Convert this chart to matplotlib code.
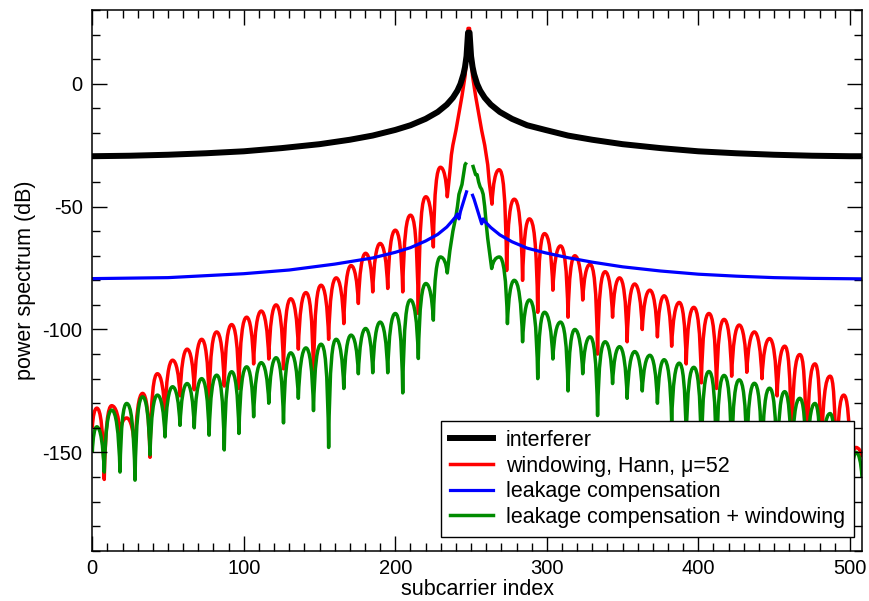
import numpy as np
import matplotlib
matplotlib.use("Agg")
import matplotlib.pyplot as plt
from matplotlib.path import Path
from matplotlib.patches import PathPatch
from matplotlib.lines import Line2D
from matplotlib.ticker import MultipleLocator

plt.rcParams['font.family'] = ['Liberation Sans', 'DejaVu Sans']
plt.rcParams['axes.unicode_minus'] = False

# ---------------------------------------------------------------- data
# interferer (smooth leakage spectrum)
black_x = [0, 25, 50, 75, 100, 125, 150, 170, 185, 200, 210, 220, 228, 234, 238,
           241, 243, 245, 246, 247, 248, 249, 250, 251, 252, 254, 256, 259, 263,
           269, 277, 287, 299, 314, 330, 350, 375, 400, 425, 450, 475, 500, 508]
black_db = [-29.5, -29.3, -28.9, -28.3, -27.5, -26.2, -24.6, -22.8, -21.1, -18.8,
            -16.9, -14.3, -11.5, -8.5, -5.7, -2.8, -0.1, 3.9, 6.8, 11.2, 20.8,
            20.8, 11.2, 6.8, 3.9, -0.1, -2.8, -5.7, -8.5, -11.5, -14.3, -16.9,
            -18.8, -21.1, -22.8, -24.6, -26.2, -27.5, -28.3, -28.9, -29.3, -29.5,
            -29.5]

# leakage compensation (smooth, gap at the interferer bins)
blue_x = [0, 50, 100, 130, 160, 185, 200, 210, 220, 228, 234, 238, 240, 241,
          242, 243, 245, 246, 247, 248, 249, 250, 251, 252, 253, 254, 255, 256,
          257, 258, 259, 263, 269, 277, 287, 299, 314, 330, 350, 375, 400, 425,
          450, 475, 508]
blue_db = [-79.3, -78.9, -77.3, -75.8, -73.4, -70.9, -68.6, -66.7, -64.0, -61.3,
           -58.3, -55.5, -54.0, -53.0, -55.0, -52.0, -48.0, -46.0, -44.0, np.nan,
           np.nan, np.nan, -45.4, -47.0, -49.0, -51.0, -53.0, -55.0, -57.0, -55.0,
           -56.0, -58.5, -61.5, -64.3, -66.9, -68.8, -70.8, -72.6, -74.5, -76.2,
           -77.5, -78.3, -78.9, -79.2, -79.4]

# windowing, Hann: lobe turning points (null, peak, null, ...) left of centre
red_left_x = [0, 3, 7.9, 12.8, 18.3, 22.7, 28.2, 33.2, 38.1, 43, 48, 53, 57.9,
              62.6, 67.3, 72.2, 77.1, 82.1, 87.1, 92, 96.8, 101.9, 106.5, 111.5,
              116.5, 121.3, 126.2, 131, 136, 141, 146, 151, 156, 161, 166, 170.8,
              175.6, 180.4, 185.1, 190, 195, 200, 204.9, 210, 215.2, 220.2,
              225.1, 229.8, 234.3]
red_left_db = [-140, -132, -161, -131, -142, -136, -150, -126, -152, -118, -135,
               -112.5, -127, -108, -124.5, -104, -129, -101, -123, -98, -124, -95,
               -114, -92.5, -112, -90, -116, -87.5, -108, -85, -119, -82, -104,
               -79, -97.6, -74, -89.4, -69, -84.7, -65, -83.3, -59.6, -84.7,
               -53.5, -93.5, -46, -66.4, -34, -46]
# main lobe, per subcarrier
red_core_x = [236, 237, 238, 240, 242, 244, 246, 247, 248, 249, 250, 251, 253,
              255, 257, 259, 260, 261, 262]
red_core_db = [-36, -29, -25, -19, -12, -5, 3, 10, 22.5, 22.5, 10, 3, -5, -12,
               -19, -25, -29, -33, -40]
# lobe turning points (null, peak, null, ...) right of centre
red_right_x = [263.8, 268.5, 273.5, 278.5, 284, 288.5, 294, 298.5, 304, 309, 314,
               318.5, 323.7, 328.5, 333.5, 338.5, 343.4, 348, 353, 358, 363, 368,
               373, 377.4, 382.4, 387.4, 392, 397, 402, 407, 412, 417, 422, 427,
               432, 437, 442, 447, 452, 457, 461.5, 467, 471.5, 477, 481, 487, 491,
               496, 500.5, 504, 508]
red_right_db = [-49, -35, -76, -47, -80, -55, -93, -61, -84, -66, -95, -70, -88,
                -73.5, -110, -76.5, -95, -79, -105, -81.5, -100, -84, -103, -86.3,
                -106.8, -89, -114, -91, -121.7, -93.5, -124, -95.9, -119, -98.2,
                -117.4, -101, -120, -103.7, -127, -106.8, -150, -110.2, -160, -114,
                -158, -119, -165, -126.7, -160, -148, -152]

# leakage compensation + windowing
green_left_x = red_left_x
green_left_db = [-150, -139.6, -158, -132.8, -158, -130.1, -161.3, -127.4, -151,
                 -126.7, -143.7, -123.3, -139, -122, -140, -120, -143, -118.6,
                 -149, -117.2, -142.3, -115.2, -135.5, -113.5, -130, -111.5, -138,
                 -109.5, -128, -107.5, -133, -106, -148, -104, -124, -102.3, -118,
                 -99.6, -117.6, -97, -117.6, -93.5, -125.8, -88, -111.8, -81.3,
                 -96.2, -70.5, -77]
green_core_x = [236, 238, 240, 241, 242, 243, 244, 245, 246, 247, 248, 249, 250,
                251, 252, 253, 254, 255, 256, 257, 258, 259, 260, 261]
green_core_db = [-68, -60, -54, -50, -45, -43, -41, -37, -33, -32, np.nan,
                 np.nan, np.nan, -33, -35, -37, -37, -40, -42, -43, -45, -50, -57,
                 -63]
green_right_x = [263.6, 268.7, 274, 278.5, 284, 288.5, 294, 298.5, 304, 309, 314,
                 318.5, 323.7, 328.5, 333.5, 338.5, 343.4, 348, 353, 358, 363, 368,
                 373, 377.4, 382.4, 387.4, 392, 397, 402, 407, 412, 417, 422, 427,
                 432, 437, 442, 447, 452, 457, 461.5, 467, 471.5, 477, 481, 487,
                 491, 496, 500.5, 504, 508]
green_right_db = [-75.2, -70.5, -97.6, -80, -105, -88, -120, -93, -112, -97, -125,
                  -100, -118, -103, -135, -105, -122, -107, -128, -109, -125,
                  -110.5, -130, -112.3, -137.6, -113.7, -145, -115.4, -150, -117.1,
                  -155, -118.7, -152, -120.5, -150, -121.9, -155, -123.9, -160,
                  -125.3, -158, -128, -162, -130.1, -165, -134.2, -170, -140, -172,
                  -150, -160]

labels = ["interferer", "windowing, Hann, \u03bc=52", "leakage compensation",
          "leakage compensation + windowing"]


# ---------------------------------------------------------------- helpers
def lobes(x, db):
    """Alternating null/peak turning points, starting with a null."""
    return [(xi, yi, 'n' if i % 2 == 0 else 'p') for i, (xi, yi) in enumerate(zip(x, db))]


def samples(x, db):
    return [(xi, yi, 's') for xi, yi in zip(x, db)]


def spectrum_path(points):
    verts, codes = [], []
    prev = None
    for xi, yi, ki in points:
        if np.isnan(yi):
            prev = None
            continue
        if prev is None:
            verts.append((xi, yi))
            codes.append(Path.MOVETO)
        else:
            x0, y0, k0 = prev
            dx = xi - x0
            if k0 == 'n' and ki == 'p':
                c1 = (x0 + 0.15 * dx, yi - min(8.0, 0.4 * (yi - y0)))
                c2 = (x0 + 0.5 * dx, yi)
                verts += [c1, c2, (xi, yi)]
                codes += [Path.CURVE4] * 3
            elif k0 == 'p' and ki == 'n':
                c1 = (x0 + 0.5 * dx, y0)
                c2 = (xi - 0.15 * dx, y0 - min(8.0, 0.4 * (y0 - yi)))
                verts += [c1, c2, (xi, yi)]
                codes += [Path.CURVE4] * 3
            else:
                verts.append((xi, yi))
                codes.append(Path.LINETO)
        prev = (xi, yi, ki)
    return Path(verts, codes)


# ---------------------------------------------------------------- figure
fig = plt.figure(figsize=(8.69, 6.01), dpi=100)
ax = fig.add_axes([0.1062, 0.0837, 0.8857, 0.8997])

colors = ['#000000', '#ff0000', '#0000ff', '#008b00']
widths = [4.3, 2.5, 2.3, 2.5]

ax.plot(black_x, black_db, color=colors[0], lw=widths[0], solid_joinstyle='round')

red_pts = lobes(red_left_x, red_left_db) + samples(red_core_x, red_core_db) + \
    lobes(red_right_x, red_right_db)
ax.add_patch(PathPatch(spectrum_path(red_pts), facecolor='none',
                       edgecolor=colors[1], lw=widths[1], joinstyle='round'))

ax.plot(blue_x, blue_db, color=colors[2], lw=widths[2], solid_joinstyle='round')

green_pts = lobes(green_left_x, green_left_db) + samples(green_core_x, green_core_db) + \
    lobes(green_right_x, green_right_db)
ax.add_patch(PathPatch(spectrum_path(green_pts), facecolor='none',
                       edgecolor=colors[3], lw=widths[3], joinstyle='round'))

ax.set_xlim(0, 508)
ax.set_ylim(-190, 30)
ax.set_xticks([0, 100, 200, 300, 400, 500])
ax.set_yticks([-150, -100, -50, 0])
ax.xaxis.set_minor_locator(MultipleLocator(10))
ax.yaxis.set_minor_locator(MultipleLocator(10))
ax.tick_params(which='both', direction='in', top=True, right=True,
               width=1.0, labelsize=14.5)
ax.tick_params(which='major', length=11)
ax.tick_params(which='minor', length=5.5)
ax.tick_params(axis='x', pad=6)
ax.tick_params(axis='y', pad=7)
for s in ax.spines.values():
    s.set_linewidth(1.1)

ax.set_xlabel("subcarrier index", fontsize=15.5, labelpad=1)
ax.set_ylabel("power spectrum (dB)", fontsize=15.5, labelpad=5)

handles = [Line2D([], [], color=c, lw=w) for c, w in zip(colors, widths)]
leg = ax.legend(handles, labels, loc='lower right', bbox_to_anchor=(0.9896, 0.0253),
                fontsize=15.5, frameon=True, fancybox=False, shadow=False,
                framealpha=1, edgecolor='black', handlelength=2.0,
                handletextpad=0.6, labelspacing=0.22, borderpad=0.42,
                borderaxespad=0)
leg.get_frame().set_linewidth(1.0)

fig.savefig("out.png", dpi=100)
